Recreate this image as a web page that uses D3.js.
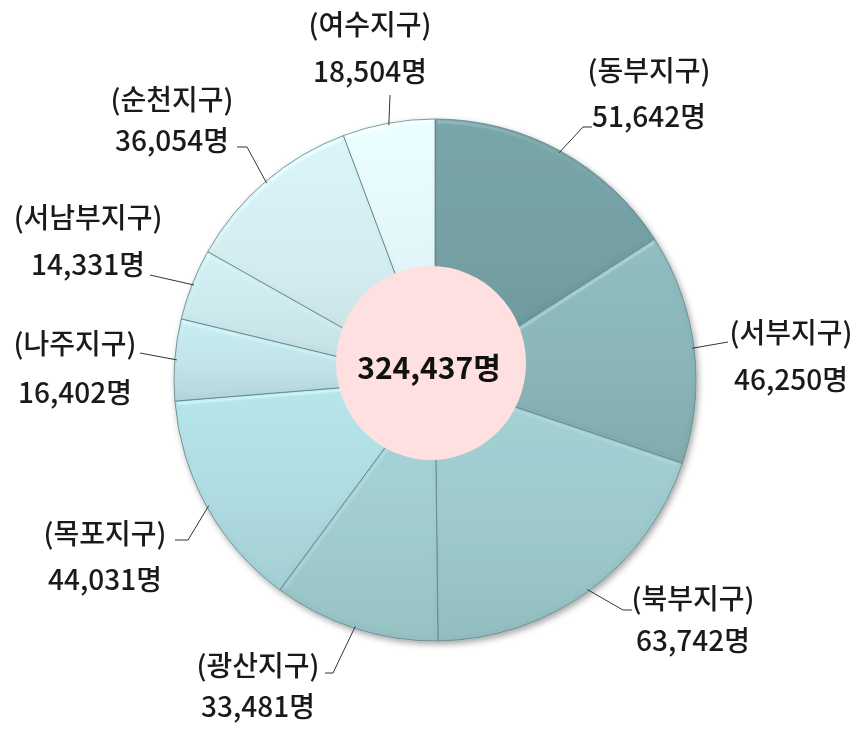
<!DOCTYPE html>
<html>
<head>
<meta charset="utf-8">
<script src="https://cdn.jsdelivr.net/npm/d3@7"></script>
<style>
  body { margin: 0; background: #fff; }
  text { font-family: "Noto Sans CJK KR", "Noto Sans", sans-serif; }
</style>
</head>
<body>
<div id="chart"></div>
<script>
const districts = ['동부지구', '서부지구', '북부지구', '광산지구', '목포지구', '나주지구', '서남부지구', '순천지구', '여수지구'];
const members = [51642, 46250, 63742, 33481, 44031, 16402, 14331, 36054, 18504];
const sliceColors = ['#6f9c9f', '#86b3b6', '#9ac7ca', '#9ecbce', '#acdadf', '#bee2e6', '#c8e6ea', '#d0eaed', '#e0f3f6'];

// label placement (annotation layout, not data): centre x, two baselines, leader bend points
const labelLayout = [
  { x: 649, y1: 81,  y2: 127, lead: [[583, 127], [592, 127]] },
  { x: 791, y1: 343, y2: 390, lead: [[728, 342]] },
  { x: 693, y1: 609, y2: 651, lead: [[623, 610], [632, 610]] },
  { x: 258, y1: 676, y2: 717, lead: [[333, 673], [325, 673]] },
  { x: 105, y1: 544, y2: 590, lead: [[188, 540], [175, 540]] },
  { x: 75,  y1: 354, y2: 403, lead: [[140, 353]] },
  { x: 88,  y1: 228, y2: 275, lead: [[150, 275]] },
  { x: 172, y1: 110, y2: 151, lead: [[247, 147], [237, 147]] },
  { x: 370, y1: 35,  y2: 82,  lead: [[390, 95]] }
];

const W = 861, H = 732;
const cx = 435, cy = 380, R = 261;

const svg = d3.select('#chart').append('svg')
  .attr('width', W).attr('height', H);

const defs = svg.append('defs');

// soft drop shadow for the whole pie
const shadow = defs.append('filter').attr('id', 'shadow')
  .attr('x', '-10%').attr('y', '-10%').attr('width', '120%').attr('height', '120%');
shadow.append('feDropShadow')
  .attr('dx', 2).attr('dy', 3).attr('stdDeviation', 3)
  .attr('flood-color', '#000').attr('flood-opacity', 0.35);

// bevel look on each slice
const bevel = defs.append('filter').attr('id', 'bevel')
  .attr('x', '-5%').attr('y', '-5%').attr('width', '110%').attr('height', '110%');
bevel.append('feGaussianBlur').attr('in', 'SourceAlpha').attr('stdDeviation', 2).attr('result', 'blur');
bevel.append('feSpecularLighting')
  .attr('in', 'blur').attr('surfaceScale', 3).attr('specularConstant', 0.3)
  .attr('specularExponent', 25).attr('lighting-color', '#ffffff').attr('result', 'spec')
  .append('feDistantLight').attr('azimuth', 250).attr('elevation', 40);
bevel.append('feComposite').attr('in', 'spec').attr('in2', 'SourceAlpha')
  .attr('operator', 'in').attr('result', 'specIn');
bevel.append('feComposite').attr('in', 'SourceGraphic').attr('in2', 'specIn')
  .attr('operator', 'arithmetic').attr('k1', 0).attr('k2', 1).attr('k3', 0.6).attr('k4', 0);

sliceColors.forEach((c, i) => {
  const g = defs.append('linearGradient').attr('id', `grad${i}`)
    .attr('x1', 0).attr('y1', 0).attr('x2', 0).attr('y2', 1);
  g.append('stop').attr('offset', '0%').attr('stop-color', d3.color(c).brighter(0.12));
  g.append('stop').attr('offset', '55%').attr('stop-color', c);
  g.append('stop').attr('offset', '100%').attr('stop-color', d3.color(c).darker(0.18));
});

const pie = d3.pie().sort(null).value(d => d);
const arcs = pie(members);

const arc = d3.arc().innerRadius(0).outerRadius(R);

const g = svg.append('g').attr('transform', `translate(${cx},${cy})`);

const pieG = g.append('g').attr('filter', 'url(#shadow)');
pieG.selectAll('path')
  .data(arcs)
  .enter()
  .append('path')
  .attr('d', arc)
  .attr('fill', (d, i) => `url(#grad${i})`)
  .attr('stroke', '#5f8386')
  .attr('stroke-width', 0.8)
  .attr('filter', 'url(#bevel)');

// Leader lines
arcs.forEach((d, i) => {
  const a = (d.startAngle + d.endAngle) / 2;
  const start = [cx + (R - 2) * Math.sin(a), cy - (R - 2) * Math.cos(a)];
  const pts = [start].concat(labelLayout[i].lead);
  svg.append('path')
    .attr('d', d3.line()(pts))
    .attr('fill', 'none')
    .attr('stroke', '#333')
    .attr('stroke-width', 1);
});

// Labels
const fmt = d3.format(',');
districts.forEach((name, i) => {
  const l = labelLayout[i];
  svg.append('text')
    .attr('x', l.x).attr('y', l.y1)
    .attr('text-anchor', 'middle')
    .attr('fill', '#1a1a1a')
    .style('font-size', '28px')
    .style('font-weight', 500)
    .text(`(${name})`);
  svg.append('text')
    .attr('x', l.x).attr('y', l.y2)
    .attr('text-anchor', 'middle')
    .attr('fill', '#1a1a1a')
    .style('font-size', '28px')
    .style('font-weight', 500)
    .text(`${fmt(members[i])}명`);
});

// Centre total
svg.append('ellipse')
  .attr('cx', 431).attr('cy', 363)
  .attr('rx', 95).attr('ry', 97)
  .attr('fill', '#fee0e0');

svg.append('text')
  .attr('x', 429).attr('y', 379)
  .attr('text-anchor', 'middle')
  .attr('fill', '#111')
  .style('font-size', '30px')
  .style('font-weight', 'bold')
  .text(`${fmt(d3.sum(members))}명`);
</script>
</body>
</html>
